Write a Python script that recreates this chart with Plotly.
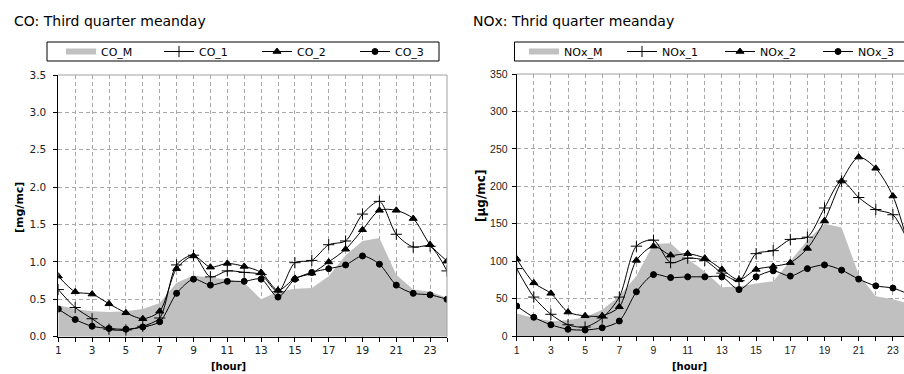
import plotly.graph_objects as go

W, H = 904, 374

hours = list(range(1, 25))

co_m = [0.42, 0.37, 0.34, 0.33, 0.34, 0.37, 0.45, 0.72, 0.82, 0.79, 0.77, 0.72, 0.50, 0.60, 0.64, 0.65, 0.81, 1.09, 1.28, 1.32, 0.83, 0.63, 0.60, 0.52]
co_1 = [0.63, 0.39, 0.24, 0.10, 0.09, 0.14, 0.25, 0.96, 1.09, 0.80, 0.88, 0.86, 0.83, 0.60, 0.99, 1.02, 1.23, 1.28, 1.64, 1.81, 1.37, 1.20, 1.21, 0.88]
co_2 = [0.81, 0.60, 0.57, 0.44, 0.32, 0.24, 0.34, 0.91, 1.08, 0.93, 0.98, 0.94, 0.86, 0.62, 0.78, 0.85, 1.00, 1.17, 1.43, 1.69, 1.69, 1.58, 1.23, 1.01]
co_3 = [0.37, 0.23, 0.14, 0.11, 0.10, 0.13, 0.20, 0.58, 0.77, 0.69, 0.74, 0.74, 0.77, 0.53, 0.77, 0.86, 0.91, 0.96, 1.08, 0.97, 0.69, 0.58, 0.56, 0.50]

nox_m = [30, 24, 20, 21, 25, 35, 53, 80, 123, 124, 103, 86, 65, 66, 70, 73, 100, 128, 150, 145, 82, 53, 49, 43]
nox_1 = [90, 52, 29, 15, 12, 24, 52, 120, 128, 98, 104, 101, 84, 74, 110, 114, 129, 132, 171, 207, 185, 169, 162, 120]
nox_2 = [103, 71, 57, 32, 27, 27, 39, 101, 120, 108, 110, 104, 89, 75, 89, 93, 98, 117, 154, 207, 239, 224, 187, 113]
nox_3 = [40, 25, 15, 9, 8, 11, 20, 59, 82, 78, 79, 79, 79, 62, 79, 87, 80, 90, 95, 88, 76, 67, 64, 55]

co_names = ["CO_M", "CO_1", "CO_2", "CO_3"]
nox_names = ["NOx_M", "NOx_1", "NOx_2", "NOx_3"]
titles = ["CO: Third quarter meanday", "NOx: Thrid quarter meanday"]
y_titles = ["[mg/mc]", "[µg/mc]"]
x_title = "[hour]"


def px(p):
    return p / W


def py(p):
    return 1 - p / H


GRID = "#a8a8a8"
DASH = "4px,3px"
FILL = "#c0c0c0"

fig = go.Figure()

markers = [("cross-thin", 8), ("triangle-up", 7), ("circle", 6)]


def add_series(m, lines, names, xa, ya, leg):
    fig.add_trace(go.Scatter(
        x=hours, y=m, name=names[0], mode="none", fill="tozeroy",
        fillcolor=FILL, xaxis=xa, yaxis=ya, legend=leg, hoverinfo="skip"))
    for i, (vals, nm, (sym, sz)) in enumerate(zip(lines, names[1:], markers)):
        extra = {"legendwidth": 40} if i == len(lines) - 1 else {}
        fig.add_trace(go.Scatter(
            x=hours, y=vals, name=nm, mode="lines+markers",
            line=dict(color="black", width=1, shape="spline", smoothing=0.8),
            marker=dict(symbol=sym, size=sz, color="black",
                        line=dict(color="black", width=1)),
            xaxis=xa, yaxis=ya, legend=leg, **extra))


add_series(co_m, [co_1, co_2, co_3], co_names, "x", "y", "legend")
add_series(nox_m, [nox_1, nox_2, nox_3], nox_names, "x2", "y2", "legend2")

# plot geometry (window pixels)
L1, R1, T1, B1 = 58.3, 447.0, 75.0, 336.7
L2, T2, B2 = 516.7, 74.0, 336.0
hour_px2 = 17.1
r2_max = 1 + (W - L2) / hour_px2


def xaxis_cfg(dom, rng, fam, size, anchor):
    return dict(
        domain=dom, range=rng, anchor=anchor, tickmode="linear", tick0=1, dtick=2,
        ticks="outside", ticklen=4, tickcolor="black",
        showgrid=True, gridcolor=GRID, griddash=DASH, gridwidth=1,
        minor=dict(dtick=1, tick0=1, ticks="outside", ticklen=4, tickcolor="black",
                   showgrid=True, gridcolor=GRID, griddash=DASH, gridwidth=1),
        showline=True, linecolor="black", linewidth=1, mirror=False,
        zeroline=False, tickfont=dict(family=fam, size=size, color="#222"),
        automargin=False, fixedrange=True)


def yaxis_cfg(dom, rng, dt, fmt, fam, size, standoff, anchor):
    return dict(
        domain=dom, range=rng, anchor=anchor, tickmode="linear", tick0=0, dtick=dt,
        tickformat=fmt, ticks="outside", ticklen=4, tickcolor="black",
        showgrid=True, gridcolor=GRID, griddash=DASH, gridwidth=1,
        showline=True, linecolor="black", linewidth=1, mirror=False,
        zeroline=False, tickfont=dict(family=fam, size=size, color="#222"),
        ticklabelstandoff=standoff, automargin=False, fixedrange=True)


leg_common = dict(
    orientation="h", xanchor="left", yanchor="middle",
    bgcolor="rgba(0,0,0,0)", borderwidth=0,
    font=dict(family="DejaVu Sans", size=11, color="black"),
    entrywidth=53, entrywidthmode="pixels", itemwidth=30,
    itemclick=False, itemdoubleclick=False)

fig.update_layout(
    width=W, height=H,
    margin=dict(l=0, r=0, t=0, b=0, pad=0, autoexpand=False),
    paper_bgcolor="white", plot_bgcolor="white",
    showlegend=True,
    xaxis=xaxis_cfg([px(L1), px(R1)], [1, 24], "DejaVu Sans", 10.5, "y"),
    yaxis=yaxis_cfg([py(B1), py(T1)], [0, 3.5], 0.5, ".1f", "DejaVu Sans", 10.5, 5, "x"),
    xaxis2=xaxis_cfg([px(L2), 1.0], [1, r2_max], "Liberation Sans", 10.5, "y2"),
    yaxis2=yaxis_cfg([py(B2), py(T2)], [0, 350], 50, "d", "Liberation Sans", 10.5, 2, "x2"),
    legend=dict(leg_common, x=px(61), y=py(51.5)),
    legend2=dict(leg_common, x=px(524), y=py(51.5)),
)

shapes = [
    # legend boxes
    dict(type="rect", xref="paper", yref="paper", x0=px(47), x1=px(439),
         y0=py(61), y1=py(42), line=dict(color="black", width=1), fillcolor="white", layer="below"),
    dict(type="rect", xref="paper", yref="paper", x0=px(514.5), x1=px(960),
         y0=py(61), y1=py(42), line=dict(color="black", width=1), fillcolor="white", layer="below"),
    # top / right plot borders (light grey)
    dict(type="line", xref="x domain", yref="y domain", x0=0, x1=1, y0=1, y1=1,
         line=dict(color="#a0a0a0", width=1)),
    dict(type="line", xref="x domain", yref="y domain", x0=1, x1=1, y0=0, y1=1,
         line=dict(color="#a0a0a0", width=1)),
    dict(type="line", xref="x2 domain", yref="y2 domain", x0=0, x1=1, y0=1, y1=1,
         line=dict(color="#a0a0a0", width=1)),
]

annotations = [
    dict(text=titles[0], x=px(12), y=py(21), xref="paper", yref="paper",
         xanchor="left", yanchor="middle", showarrow=False,
         font=dict(family="DejaVu Sans", size=14, color="black")),
    dict(text=titles[1], x=px(471), y=py(21), xref="paper", yref="paper",
         xanchor="left", yanchor="middle", showarrow=False,
         font=dict(family="DejaVu Sans", size=14, color="black")),
    dict(text="<b>" + y_titles[0] + "</b>", x=px(19.5), y=py(207.5), xref="paper", yref="paper",
         xanchor="center", yanchor="middle", textangle=-90, showarrow=False,
         font=dict(family="DejaVu Sans", size=11, color="black")),
    dict(text="<b>" + y_titles[1] + "</b>", x=px(481), y=py(196), xref="paper", yref="paper",
         xanchor="center", yanchor="middle", textangle=-90, showarrow=False,
         font=dict(family="DejaVu Sans", size=12, color="black")),
    dict(text="<b>" + x_title + "</b>", x=px(229), y=py(366), xref="paper", yref="paper",
         xanchor="center", yanchor="middle", showarrow=False,
         font=dict(family="DejaVu Sans", size=10, color="black")),
    dict(text="<b>" + x_title + "</b>", x=px(689), y=py(366), xref="paper", yref="paper",
         xanchor="center", yanchor="middle", showarrow=False,
         font=dict(family="DejaVu Sans", size=10, color="black")),
]

fig.update_layout(shapes=shapes, annotations=annotations)

fig.write_html(
    "out.html",
    config=dict(displayModeBar=False, staticPlot=True),
    post_script="document.body.style.margin='0';"
                "document.documentElement.style.overflow='hidden';",
)
